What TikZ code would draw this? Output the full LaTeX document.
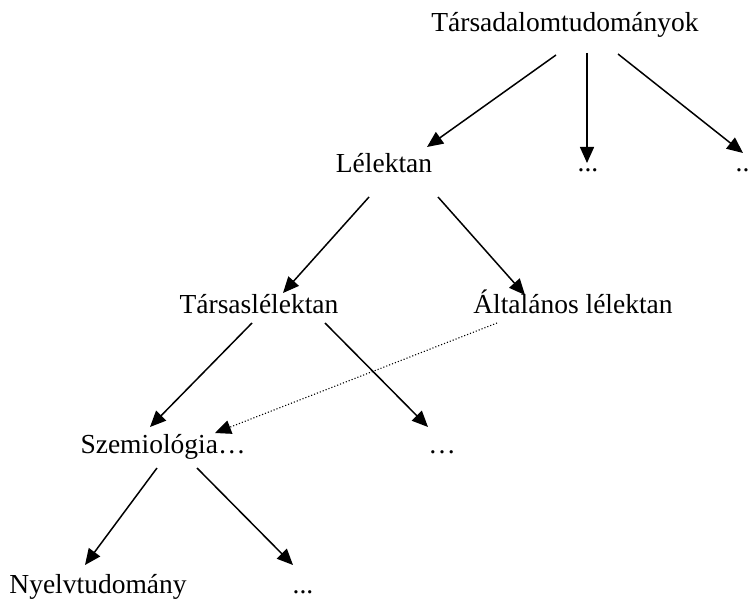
\documentclass[tikz,border=0pt]{standalone}
\usepackage{fontspec}
\setmainfont{Liberation Serif}
\usetikzlibrary{arrows.meta}
\tikzset{
  lbl/.style={anchor=base, inner sep=0pt, font=\fontsize{27.5}{30}\selectfont},
  arr/.style={-{Triangle[length=16pt,width=14pt]}, line width=1.5pt},
  dotarr/.style={-{Triangle[length=16pt,width=14pt]}, line width=1.1pt, dotted},
}
\begin{document}
\begin{tikzpicture}[x=1pt,y=-1pt]
\clip (0,0) rectangle (749,601);
\fill[white] (0,0) rectangle (749,601);
\node[lbl] (top) at (565,32) {Társadalomtudományok};
\node[lbl] (lel) at (384,173) {Lélektan};
\node[lbl] (d1) at (588,172) {...};
\node[lbl] (d2) at (746,172) {...};
\node[lbl] (tars) at (259,313) {Társaslélektan};
\node[lbl] (alt) at (573,313) {Általános lélektan};
\node[lbl] (szem) at (163,453) {Szemiológia…};
\node[lbl] (d3) at (442,453) {…};
\node[lbl] (nyelv) at (98,593) {Nyelvtudomány};
\node[lbl] (d4) at (303,593) {...};

\draw[arr] ([shift={(-9,23)}]top.base) -- ([shift={(43,-26)}]lel.base);
\draw[arr] ([shift={(22,21)}]top.base) -- ([shift={(-1,-9)}]d1.base);
\draw[arr] ([shift={(53,22)}]top.base) -- ([shift={(-3,-19)}]d2.base);
\draw[arr] ([shift={(-15,24)}]lel.base) -- ([shift={(24,-20)}]tars.base);
\draw[arr] ([shift={(54,24)}]lel.base) -- ([shift={(-48,-18)}]alt.base);
\draw[arr] ([shift={(-7,10)}]tars.base) -- ([shift={(-13,-26)}]szem.base);
\draw[arr] ([shift={(66,10)}]tars.base) -- ([shift={(-14,-26)}]d3.base);
\draw[dotarr] ([shift={(-76,10)}]alt.base) -- ([shift={(52,-20)}]szem.base);
\draw[arr] ([shift={(-6,15)}]szem.base) -- ([shift={(-13,-28)}]nyelv.base);
\draw[arr] ([shift={(34,15)}]szem.base) -- ([shift={(-10,-28)}]d4.base);
\end{tikzpicture}
\end{document}
